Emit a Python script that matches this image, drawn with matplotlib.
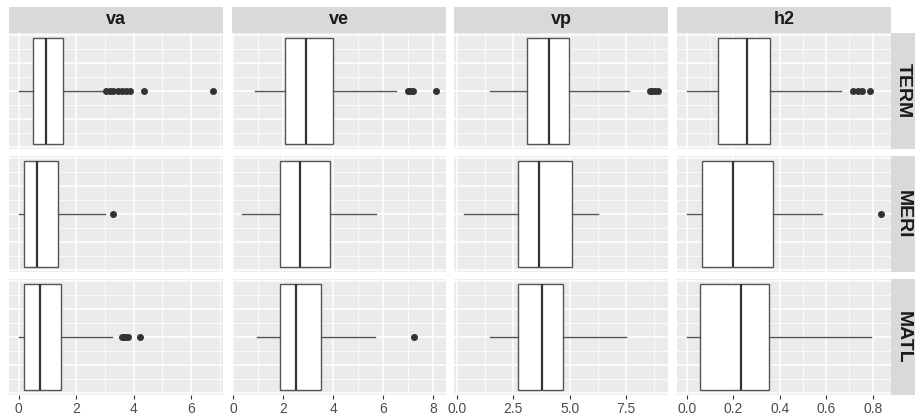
import numpy as np
import matplotlib.pyplot as plt
from matplotlib.ticker import FixedLocator

plt.rcParams['font.family'] = ['Liberation Sans', 'DejaVu Sans']

variables = ['va', 've', 'vp', 'h2']
groups = ['TERM', 'MERI', 'MATL']

# rows = groups, columns = variables
whislo = [[0.00, 0.87, 1.44, 0.000],
          [0.00, 0.34, 0.29, 0.000],
          [0.00, 0.96, 1.48, 0.000]]
q1 = [[0.51, 2.06, 3.12, 0.134],
      [0.17, 1.86, 2.72, 0.067],
      [0.17, 1.89, 2.72, 0.059]]
med = [[0.96, 2.90, 4.07, 0.261],
       [0.62, 2.69, 3.63, 0.198],
       [0.73, 2.53, 3.79, 0.233]]
q3 = [[1.56, 3.98, 4.99, 0.358],
      [1.38, 3.86, 5.09, 0.373],
      [1.49, 3.51, 4.70, 0.352]]
whishi = [[3.00, 6.54, 7.62, 0.664],
          [3.00, 5.74, 6.24, 0.584],
          [3.26, 5.68, 7.50, 0.793]]
fliers = [[[3.05, 3.17, 3.30, 3.45, 3.60, 3.74, 3.88, 4.35, 6.78],
           [7.00, 7.08, 7.20, 8.14],
           [8.55, 8.68, 8.80, 8.94],
           [0.715, 0.735, 0.752, 0.790]],
          [[3.29], [], [], [0.837]],
          [[3.60, 3.66, 3.72, 3.80, 4.22], [7.23], [], []]]

major_ticks = [[0, 2, 4, 6], [0, 2, 4, 6, 8], [0, 2.5, 5, 7.5], [0, 0.2, 0.4, 0.6, 0.8]]
minor_ticks = [[1, 3, 5, 7], [1, 3, 5, 7], [1.25, 3.75, 6.25, 8.75], [0.1, 0.3, 0.5, 0.7]]
tick_labels = [['0', '2', '4', '6'], ['0', '2', '4', '6', '8'],
               ['0.0', '2.5', '5.0', '7.5'], ['0.0', '0.2', '0.4', '0.6', '0.8']]

W, H = 915, 419
fig = plt.figure(figsize=(W / 100, H / 100), dpi=100)


def rect(x0, y0, w, h):
    return [x0 / W, 1 - (y0 + h) / H, w / W, h / H]


col_x = [9, 232, 454, 677]
row_y = [33, 156, 279]
pw, ph = 214, 116
panel_bg = '#EBEBEB'
strip_bg = '#D9D9D9'
edge = '#333333'

for j, var in enumerate(variables):
    vals = []
    for i in range(3):
        vals += [whislo[i][j], whishi[i][j]] + fliers[i][j]
    lo, hi = min(vals), max(vals)
    pad = 0.05 * (hi - lo)

    for i, grp in enumerate(groups):
        ax = fig.add_axes(rect(col_x[j], row_y[i], pw, ph))
        ax.set_facecolor(panel_bg)
        for s in ax.spines.values():
            s.set_visible(False)
        stats = [dict(whislo=whislo[i][j], q1=q1[i][j], med=med[i][j],
                      q3=q3[i][j], whishi=whishi[i][j], fliers=fliers[i][j])]
        ax.bxp(stats, positions=[0], widths=0.75, orientation='horizontal',
               patch_artist=True, showcaps=False,
               boxprops=dict(facecolor='white', edgecolor='#555555', linewidth=1.0),
               medianprops=dict(color=edge, linewidth=1.6),
               whiskerprops=dict(color='#555555', linewidth=1.0),
               flierprops=dict(marker='o', markerfacecolor=edge, markeredgecolor=edge,
                               markersize=4, linestyle='none'))
        ax.set_xlim(lo - pad, hi + pad)
        ax.set_ylim(-0.4125, 0.4125)
        ax.xaxis.set_major_locator(FixedLocator(major_ticks[j]))
        ax.xaxis.set_minor_locator(FixedLocator(minor_ticks[j]))
        ax.yaxis.set_major_locator(FixedLocator([-0.4, -0.2, 0, 0.2, 0.4]))
        ax.yaxis.set_minor_locator(FixedLocator([-0.3, -0.1, 0.1, 0.3]))
        ax.grid(which='major', color='white', linewidth=1.1)
        ax.grid(which='minor', color='white', linewidth=0.55)
        ax.set_axisbelow(True)
        ax.tick_params(axis='y', which='both', length=0, labelleft=False)
        ax.tick_params(axis='x', which='minor', length=0)
        if i == 2:
            ax.set_xticklabels(tick_labels[j])
            ax.tick_params(axis='x', which='major', length=3, width=0.8,
                           color='#333333', labelsize=10, labelcolor='#4D4D4D', pad=2)
        else:
            ax.tick_params(axis='x', which='major', length=0, labelbottom=False)

    sax = fig.add_axes(rect(col_x[j], 7, pw, 26))
    sax.set_facecolor(strip_bg)
    sax.set_xticks([])
    sax.set_yticks([])
    for s in sax.spines.values():
        s.set_visible(False)
    sax.text(0.5, 0.5, var, ha='center', va='center', fontsize=13,
             fontweight='bold', color='#1A1A1A', transform=sax.transAxes)

for i, grp in enumerate(groups):
    sax = fig.add_axes(rect(891, row_y[i], 24, ph))
    sax.set_facecolor(strip_bg)
    sax.set_xticks([])
    sax.set_yticks([])
    for s in sax.spines.values():
        s.set_visible(False)
    sax.text(0.5, 0.5, grp, ha='center', va='center', rotation=-90, fontsize=14,
             fontweight='bold', color='#1A1A1A', transform=sax.transAxes)

fig.savefig('out.png', dpi=100)
